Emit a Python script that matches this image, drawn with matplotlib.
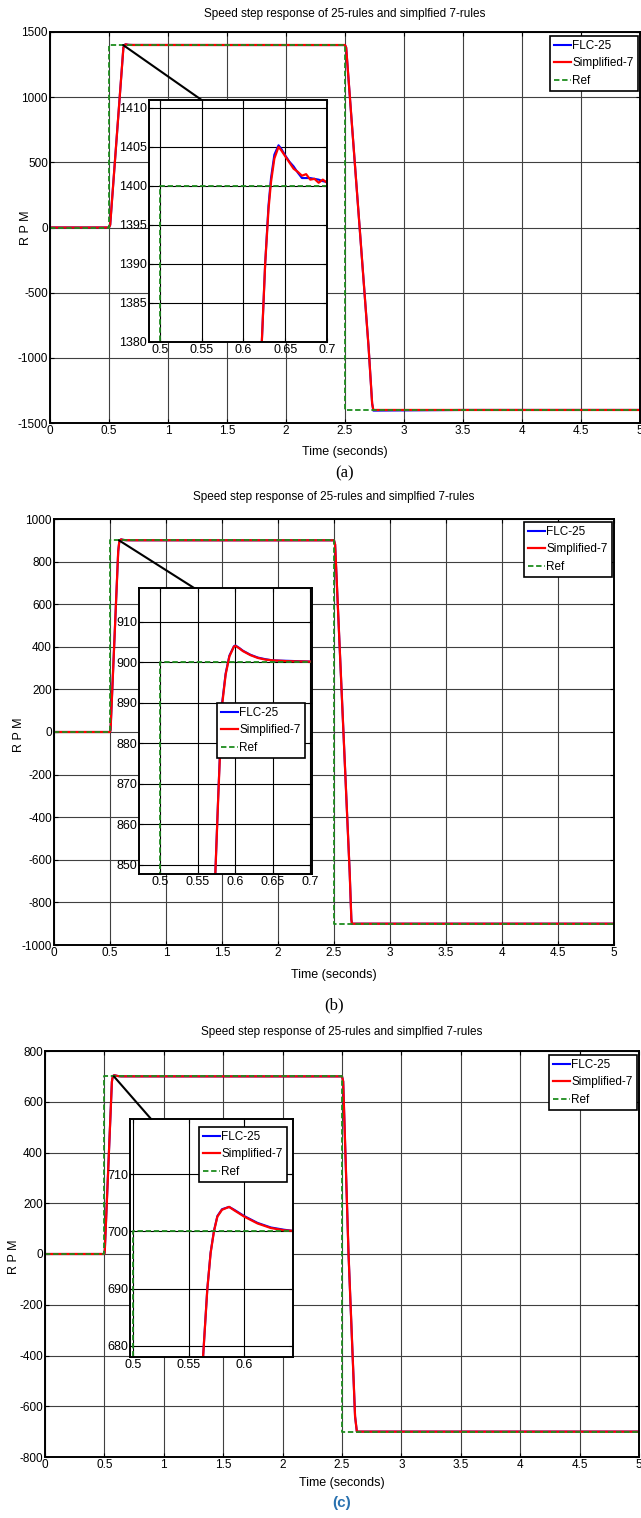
import matplotlib
matplotlib.use("Agg")
import matplotlib.pyplot as plt
from matplotlib.patches import ConnectionPatch

plt.rcParams['font.family'] = ['Liberation Sans', 'DejaVu Sans']
plt.rcParams['axes.unicode_minus'] = False

TITLE = "Speed step response of 25-rules and simplfied 7-rules"
labels = ["FLC-25", "Simplified-7", "Ref"]

# ---- panel (a): 1400 rpm
t_a = [0, 0.5, 0.51, 0.622, 0.626, 0.630, 0.633, 0.637, 0.642, 0.645, 0.65, 0.655,
       0.66, 0.665, 0.67, 0.675, 0.68, 0.685, 0.69, 0.695, 0.70, 1.5, 2.5, 2.51,
       2.6, 2.7, 2.73, 2.74, 3.5, 5.0]
s7_a = [0, 0, 20, 1380, 1390, 1397, 1400.5, 1403.5, 1405, 1404.6, 1403.8, 1403,
        1402.2, 1401.8, 1401.3, 1401.5, 1400.8, 1400.9, 1400.4, 1400.8, 1400.4, 1400.2, 1400, 1380,
        290, -920, -1350, -1400, -1400, -1400]
flc_a = [0, 0, 20, 1380, 1390, 1397.5, 1401, 1404, 1405.2, 1404.8, 1403.9, 1403.1,
         1402.5, 1401.7, 1401.0, 1401.0, 1401.0, 1400.9, 1400.8, 1400.6, 1400.5, 1400.2, 1400, 1380,
         290, -920, -1350, -1405, -1400, -1400]
sp_a = 1400

# ---- panel (b): 900 rpm
t_b = [0, 0.5, 0.505, 0.5733, 0.577, 0.582, 0.587, 0.592, 0.598, 0.60, 0.605, 0.61,
       0.62, 0.63, 0.64, 0.65, 0.67, 0.7, 1.5, 2.5, 2.51, 2.58, 2.64, 2.655, 2.66, 3.5, 5.0]
s7_b = [0, 0, 10, 848, 866, 889, 897, 901.5, 903.9, 904.1, 903.5, 902.8,
        901.8, 901.1, 900.7, 900.5, 900.3, 900.2, 900, 900, 880, 50, -660, -880, -900, -900, -900]
flc_b = [0, 0, 10, 848, 866.5, 889.5, 897.3, 901.7, 904.0, 904.2, 903.6, 902.9,
         901.9, 901.2, 900.8, 900.5, 900.4, 900.2, 900, 900, 880, 50, -660, -880, -900, -900, -900]
sp_b = 900

# ---- panel (c): 700 rpm
t_c = [0, 0.5, 0.503, 0.563, 0.5667, 0.5697, 0.5727, 0.5758, 0.580, 0.5864, 0.591,
       0.6, 0.612, 0.624, 0.636, 0.644, 1.5, 2.5, 2.51, 2.555, 2.61, 2.625, 3.5, 5.0]
s7_c = [0, 0, 10, 678.3, 689.8, 696.2, 700, 702.6, 703.8, 704.3, 703.7,
        702.6, 701.4, 700.6, 700.2, 700.1, 700, 700, 680, 0, -640, -700, -700, -700]
flc_c = [0, 0, 10, 678.3, 689.9, 696.3, 700.1, 702.7, 703.9, 704.3, 703.8,
         702.7, 701.5, 700.7, 700.3, 700.1, 700, 700, 680, 0, -640, -700, -700, -700]
sp_c = 700

t_ref = [0, 0.5, 0.5, 2.5, 2.5, 5.0]

panels = [
    dict(t=t_a, flc=flc_a, s7=s7_a, sp=sp_a, ylim=(-1500, 1500), yticks=range(-1500, 1501, 500),
         rect=[50, 32, 640, 423], irect=[149, 100, 327, 342],
         ixlim=(0.487, 0.7), iylim=(1380, 1411), ixt=[0.5, 0.55, 0.6, 0.65, 0.7],
         iyt=[1380, 1385, 1390, 1395, 1400, 1405, 1410],
         conn=(0.62, 1400, 0.55), leg=(638, 36), ileg=None, yl=(26, 228),
         title_y=14, xl_y=452, cap="(a)", cap_y=473),
    dict(t=t_b, flc=flc_b, s7=s7_b, sp=sp_b, ylim=(-1000, 1000), yticks=range(-1000, 1001, 200),
         rect=[54, 519, 614, 945], irect=[139, 588, 312, 874],
         ixlim=(0.4716, 0.702), iylim=(847.7, 918.4), ixt=[0.5, 0.55, 0.6, 0.65, 0.7],
         iyt=[850, 860, 870, 880, 890, 900, 910],
         conn=(0.58, 900, 0.545), leg=(612, 522), ileg=(305, 703), yl=(19, 735),
         title_y=497, xl_y=975, cap="(b)", cap_y=1005),
    dict(t=t_c, flc=flc_c, s7=s7_c, sp=sp_c, ylim=(-800, 800), yticks=range(-800, 801, 200),
         rect=[45, 1051, 639, 1457], irect=[130, 1119, 293, 1357],
         ixlim=(0.497, 0.644), iylim=(678, 719.7), ixt=[0.5, 0.55, 0.6],
         iyt=[680, 690, 700, 710],
         conn=(0.58, 700, 0.516), leg=(637, 1055), ileg=(287, 1127), yl=(14, 1257),
         title_y=1032, xl_y=1483, cap="(c)", cap_y=1503),
]

W, H = 641, 1518
fig = plt.figure(figsize=(W / 100, H / 100), dpi=100)


def frac(r):
    x0, y0, x1, y1 = r
    return [x0 / W, 1 - y1 / H, (x1 - x0) / W, (y1 - y0) / H]


def style(ax):
    ax.grid(True, color='0.25', linewidth=0.8, linestyle='-')
    ax.set_axisbelow(True)
    ax.tick_params(direction='in', top=True, right=True, length=3, labelsize=8.5, pad=1.5)
    for s in ax.spines.values():
        s.set_linewidth(1.4)


def draw(ax, p):
    ax.plot(p['t'], p['flc'], color='#0000ff', lw=1.5, label=labels[0])
    ax.plot(p['t'], p['s7'], color='#ff0000', lw=1.6, label=labels[1])
    sp = p['sp']
    ax.plot(t_ref, [0, 0, sp, sp, -sp, -sp], color='#1e8c1e', lw=1.3, ls='--',
            dashes=(3, 1.5), label=labels[2])


def legend(ax, pos, size=8.5):
    lg = ax.legend(loc='upper right', bbox_to_anchor=(pos[0] / W, 1 - pos[1] / H),
                   bbox_transform=fig.transFigure, fontsize=size, fancybox=False,
                   framealpha=1, edgecolor='black', handlelength=1.4, handletextpad=0.15,
                   borderpad=0.35, labelspacing=0.45, borderaxespad=0)
    lg.get_frame().set_linewidth(1.2)
    lg.set_zorder(10)


for p in panels:
    ax = fig.add_axes(frac(p['rect']))
    draw(ax, p)
    ax.set_xlim(0, 5)
    ax.set_ylim(*p['ylim'])
    ax.set_xticks([i * 0.5 for i in range(11)])
    ax.set_xticklabels(['0', '0.5', '1', '1.5', '2', '2.5', '3', '3.5', '4', '4.5', '5'])
    ax.set_yticks(list(p['yticks']))
    style(ax)
    xc = 0.5 * (p['rect'][0] + p['rect'][2]) / W
    fig.text(p['yl'][0] / W, 1 - p['yl'][1] / H, "R P M", rotation=90,
             ha='center', va='center', fontsize=9)
    fig.text(xc, 1 - p['title_y'] / H, TITLE, ha='center', va='center', fontsize=8.5)
    fig.text(xc, 1 - p['xl_y'] / H, "Time (seconds)", ha='center', va='center', fontsize=9)
    if p['cap'] == "(c)":
        fig.text(xc, 1 - p['cap_y'] / H, p['cap'], ha='center', va='center', fontsize=11,
                 fontweight='bold', color='#2a72b0')
    else:
        fig.text(xc, 1 - p['cap_y'] / H, p['cap'], ha='center', va='center', fontsize=12,
                 family=['Liberation Serif', 'DejaVu Serif'])
    legend(ax, p['leg'])

    ins = fig.add_axes(frac(p['irect']))
    draw(ins, p)
    ins.set_xlim(*p['ixlim'])
    ins.set_ylim(*p['iylim'])
    ins.set_xticks(p['ixt'])
    ins.set_xticklabels([f"{v:g}" for v in p['ixt']])
    ins.set_yticks(p['iyt'])
    style(ins)
    ins.tick_params(labelsize=9)
    ins.grid(True, color='black', linewidth=0.8)
    if p['ileg'] is not None:
        legend(ins, p['ileg'])

    cx, cy, ix = p['conn']
    con = ConnectionPatch(xyA=(cx, cy), coordsA=ax.transData,
                          xyB=(ix, p['iylim'][1]), coordsB=ins.transData,
                          color='black', lw=1.5)
    fig.add_artist(con)

fig.savefig("out.png", dpi=100)
